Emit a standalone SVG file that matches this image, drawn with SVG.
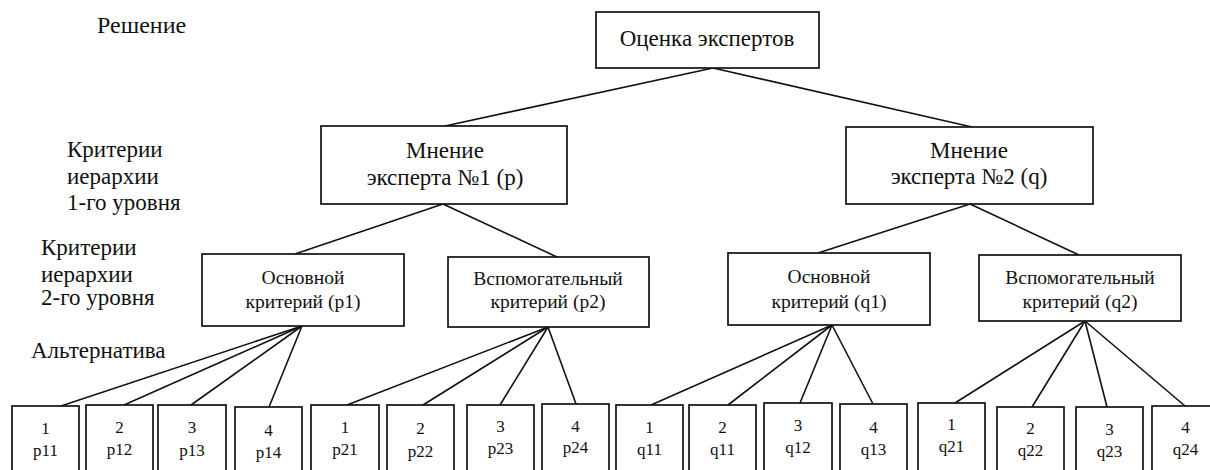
<svg xmlns="http://www.w3.org/2000/svg" width="1210" height="470" viewBox="0 0 1210 470">
<style>
.box{fill:#fff;stroke:#111;stroke-width:1.7}
.ln{stroke:#111;stroke-width:1.6;fill:none}
text{font-family:"Liberation Serif","Times New Roman",serif;fill:#111}
.lbl{font-size:23px}
.t1{font-size:23px;text-anchor:middle}
.t2{font-size:19.5px;text-anchor:middle}
.t3{font-size:17px;text-anchor:middle}
</style>
<rect width="1210" height="470" fill="#fff"/>
<g id="labels">
<text class="lbl" x="97" y="33" style="font-size:24px">Решение</text>
<text class="lbl" x="67" y="157">Критерии</text>
<text class="lbl" x="67" y="184">иерархии</text>
<text class="lbl" x="67" y="210">1-го уровня</text>
<text class="lbl" x="41" y="255">Критерии</text>
<text class="lbl" x="41" y="282">иерархии</text>
<text class="lbl" x="41" y="305">2-го уровня</text>
<text class="lbl" x="31" y="358">Альтернатива</text>
</g>
<g id="connectors">
<line class="ln" x1="713" y1="68" x2="445" y2="126"/>
<line class="ln" x1="713" y1="68" x2="972" y2="127"/>
<line class="ln" x1="443" y1="204" x2="295" y2="254"/>
<line class="ln" x1="443" y1="204" x2="557" y2="257"/>
<line class="ln" x1="970" y1="204" x2="818" y2="253"/>
<line class="ln" x1="970" y1="204" x2="1079" y2="255"/>
<line class="ln" x1="302" y1="326" x2="61" y2="406"/>
<line class="ln" x1="302" y1="326" x2="124" y2="405"/>
<line class="ln" x1="302" y1="326" x2="191" y2="405"/>
<line class="ln" x1="302" y1="326" x2="269" y2="407"/>
<line class="ln" x1="548" y1="327" x2="347" y2="405"/>
<line class="ln" x1="548" y1="327" x2="423" y2="405"/>
<line class="ln" x1="548" y1="327" x2="500" y2="405"/>
<line class="ln" x1="548" y1="327" x2="576" y2="404"/>
<line class="ln" x1="832" y1="325" x2="651" y2="405"/>
<line class="ln" x1="832" y1="325" x2="728" y2="405"/>
<line class="ln" x1="832" y1="325" x2="800" y2="403"/>
<line class="ln" x1="832" y1="325" x2="873" y2="404"/>
<line class="ln" x1="1085" y1="321" x2="955" y2="403"/>
<line class="ln" x1="1085" y1="321" x2="1032" y2="407"/>
<line class="ln" x1="1085" y1="321" x2="1107" y2="407"/>
<line class="ln" x1="1085" y1="321" x2="1185" y2="406"/>
</g>
<g id="root">
<rect class="box" x="596" y="12" width="223" height="56"/>
<text class="t1" x="707" y="46">Оценка экспертов</text>
</g>
<g id="expert-p">
<rect class="box" x="321" y="126" width="246" height="78"/>
<text class="t1" x="445" y="158">Мнение</text>
<text class="t1" x="445" y="185">эксперта №1 (p)</text>
</g>
<g id="expert-q">
<rect class="box" x="846" y="127" width="247" height="77"/>
<text class="t1" x="969" y="158">Мнение</text>
<text class="t1" x="969" y="184">эксперта №2 (q)</text>
</g>
<g id="crit-p1">
<rect class="box" x="202" y="254" width="202" height="72"/>
<text class="t2" x="303" y="284">Основной</text>
<text class="t2" x="303" y="308">критерий (p1)</text>
</g>
<g id="crit-p2">
<rect class="box" x="448" y="257" width="201" height="70"/>
<text class="t2" x="548" y="285">Вспомогательный</text>
<text class="t2" x="548" y="308">критерий (p2)</text>
</g>
<g id="crit-q1">
<rect class="box" x="728" y="253" width="202" height="72"/>
<text class="t2" x="829" y="283">Основной</text>
<text class="t2" x="829" y="308">критерий (q1)</text>
</g>
<g id="crit-q2">
<rect class="box" x="979" y="255" width="202" height="66"/>
<text class="t2" x="1080" y="284">Вспомогательный</text>
<text class="t2" x="1080" y="308">критерий (q2)</text>
</g>
<g id="alt-p11"><rect class="box" x="12" y="406" width="67" height="80"/><text class="t3" x="45.5" y="434">1</text><text class="t3" x="45.5" y="456">p11</text></g>
<g id="alt-p12"><rect class="box" x="86" y="405" width="67" height="80"/><text class="t3" x="119.5" y="433">2</text><text class="t3" x="119.5" y="455">p12</text></g>
<g id="alt-p13"><rect class="box" x="158" y="405" width="68" height="80"/><text class="t3" x="192" y="433">3</text><text class="t3" x="192" y="456">p13</text></g>
<g id="alt-p14"><rect class="box" x="235" y="407" width="67" height="80"/><text class="t3" x="268.5" y="436">4</text><text class="t3" x="268.5" y="458">p14</text></g>
<g id="alt-p21"><rect class="box" x="311" y="405" width="68" height="80"/><text class="t3" x="345" y="433">1</text><text class="t3" x="345" y="455">p21</text></g>
<g id="alt-p22"><rect class="box" x="387" y="405" width="67" height="80"/><text class="t3" x="420.5" y="434">2</text><text class="t3" x="420.5" y="457">p22</text></g>
<g id="alt-p23"><rect class="box" x="467" y="405" width="67" height="80"/><text class="t3" x="500.5" y="432">3</text><text class="t3" x="500.5" y="454">p23</text></g>
<g id="alt-p24"><rect class="box" x="542" y="404" width="67" height="80"/><text class="t3" x="575.5" y="432">4</text><text class="t3" x="575.5" y="453">p24</text></g>
<g id="alt-q11a"><rect class="box" x="616" y="405" width="67" height="80"/><text class="t3" x="649.5" y="433">1</text><text class="t3" x="649.5" y="455">q11</text></g>
<g id="alt-q11b"><rect class="box" x="689" y="405" width="67" height="80"/><text class="t3" x="722.5" y="433">2</text><text class="t3" x="722.5" y="455">q11</text></g>
<g id="alt-q12"><rect class="box" x="764" y="403" width="68" height="80"/><text class="t3" x="798" y="431">3</text><text class="t3" x="798" y="453">q12</text></g>
<g id="alt-q13"><rect class="box" x="840" y="404" width="67" height="80"/><text class="t3" x="873.5" y="433">4</text><text class="t3" x="873.5" y="455">q13</text></g>
<g id="alt-q21"><rect class="box" x="918" y="403" width="67" height="80"/><text class="t3" x="951.5" y="430">1</text><text class="t3" x="951.5" y="452">q21</text></g>
<g id="alt-q22"><rect class="box" x="997" y="407" width="67" height="80"/><text class="t3" x="1030.5" y="434">2</text><text class="t3" x="1030.5" y="456">q22</text></g>
<g id="alt-q23"><rect class="box" x="1076" y="407" width="67" height="80"/><text class="t3" x="1109.5" y="435">3</text><text class="t3" x="1109.5" y="457">q23</text></g>
<g id="alt-q24"><rect class="box" x="1152" y="406" width="67" height="80"/><text class="t3" x="1185.5" y="433">4</text><text class="t3" x="1185.5" y="455">q24</text></g>
</svg>
